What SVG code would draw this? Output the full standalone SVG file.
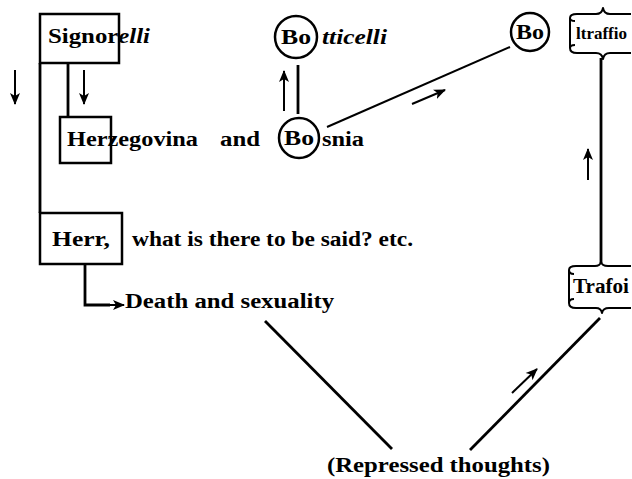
<svg xmlns="http://www.w3.org/2000/svg" width="632" height="479" viewBox="0 0 632 479">
<defs>
<style>
text{font-family:"Liberation Serif","Times New Roman",serif;font-weight:bold;font-size:20px;fill:#000}
.it{font-style:italic}
.bo{font-size:21px}
.sm{font-size:16px}
.box{fill:none;stroke:#000;stroke-width:2.5}
.ln{fill:none;stroke:#000;stroke-width:2.8}
.thin{fill:none;stroke:#000;stroke-width:2}
.ar{fill:none;stroke:#000;stroke-width:2;marker-end:url(#ah)}
.br{fill:none;stroke:#000;stroke-width:2;stroke-linejoin:round}
</style>
<marker id="ah" markerUnits="userSpaceOnUse" markerWidth="12" markerHeight="12" viewBox="0 0 12 12" refX="11" refY="6" orient="auto">
<path d="M0,1 L12,6 L0,11 L3,6 Z" fill="#000"/>
</marker>
</defs>

<g id="connectors">
<line class="ln" x1="40" y1="63" x2="40" y2="213"/>
<line class="ln" x1="68" y1="64" x2="68" y2="117"/>
<line class="ln" x1="298" y1="65" x2="298" y2="114"/>
<line class="thin" x1="327" y1="127" x2="510" y2="47"/>
<line class="ln" x1="601" y1="58" x2="601" y2="263"/>
<path class="ln" d="M85,264 L85,305 L110,305"/>
<line class="ln" x1="265" y1="321" x2="392" y2="449"/>
<line class="ln" x1="470" y1="450" x2="600" y2="318"/>
<line class="ar" x1="15" y1="70" x2="15" y2="104"/>
<line class="ar" x1="84" y1="70" x2="84" y2="104"/>
<line class="ar" x1="284" y1="111" x2="284" y2="71"/>
<line class="ar" x1="412" y1="104" x2="445" y2="90"/>
<line class="ar" x1="588" y1="180" x2="588" y2="149"/>
<line class="ar" x1="110" y1="305" x2="124" y2="305"/>
<line class="ar" x1="512" y1="393" x2="537" y2="369"/>
</g>

<g id="signorelli">
<rect class="box" x="40" y="14" width="79" height="49"/>
<text x="48" y="43" textLength="102" lengthAdjust="spacingAndGlyphs">Signor<tspan class="it">elli</tspan></text>
</g>

<g id="herzegovina">
<rect class="box" x="60" y="117" width="51" height="46"/>
<text x="67" y="146" textLength="131" lengthAdjust="spacingAndGlyphs">Herzegovina</text>
<text x="220" y="146" textLength="40" lengthAdjust="spacingAndGlyphs">and</text>
</g>

<g id="bosnia">
<circle class="box" cx="299" cy="138" r="20"/>
<text class="bo" x="299" y="145" text-anchor="middle" textLength="30" lengthAdjust="spacingAndGlyphs">Bo</text>
<text x="322" y="146" textLength="42" lengthAdjust="spacingAndGlyphs">snia</text>
</g>

<g id="botticelli">
<circle class="box" cx="296" cy="37" r="21"/>
<text class="bo" x="296" y="44" text-anchor="middle" textLength="30" lengthAdjust="spacingAndGlyphs">Bo</text>
<text class="it" x="322" y="44" textLength="65" lengthAdjust="spacingAndGlyphs">tticelli</text>
</g>

<g id="boltraffio">
<circle class="box" cx="530" cy="32" r="19"/>
<text class="bo" x="530" y="39" text-anchor="middle" textLength="28" lengthAdjust="spacingAndGlyphs">Bo</text>
<path class="br" d="M575,21 Q570,21 570,18 M570,18 Q570,14 577,14 L596,14 Q602,14 603,8 Q604,14 610,14 L631,14 M570,18 L570,48 Q570,53 577,53 L596,53 Q602,53 603,59 Q604,53 610,53 L631,53 M570,48 Q570,45 575,45"/>
<text class="sm" x="576" y="39" textLength="51" lengthAdjust="spacingAndGlyphs">ltraffio</text>
</g>

<g id="herr">
<rect class="box" x="40" y="213" width="82" height="51"/>
<text x="52" y="246" textLength="58" lengthAdjust="spacingAndGlyphs">Herr,</text>
<text x="132" y="246" textLength="281" lengthAdjust="spacingAndGlyphs">what is there to be said? etc.</text>
</g>

<g id="death">
<text x="125" y="308" textLength="209" lengthAdjust="spacingAndGlyphs">Death and sexuality</text>
</g>

<g id="trafoi">
<path class="br" d="M574,274 Q569,274 569,270 M569,270 Q569,266 576,266 L595,266 Q600,266 601,262 Q602,266 608,266 L631,266 M569,270 L569,303 Q569,308 576,308 L596,308 Q601,308 602,313 Q603,308 609,308 L631,308 M569,303 Q569,299 574,299"/>
<text x="573" y="293" textLength="56" lengthAdjust="spacingAndGlyphs">Trafoi</text>
</g>

<g id="repressed">
<text x="327" y="472" textLength="223" lengthAdjust="spacingAndGlyphs">(Repressed thoughts)</text>
</g>
</svg>
